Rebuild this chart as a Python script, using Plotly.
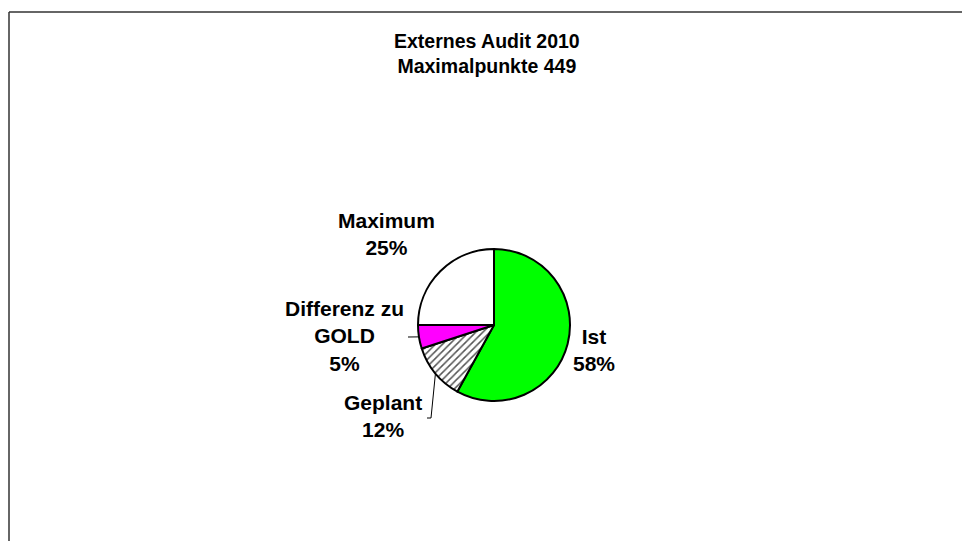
import math
import plotly.graph_objects as go

# ---- data ----
categories = ["Ist", "Geplant", "Differenz zu GOLD", "Maximum"]
label_lines = ["Ist", "Geplant", "Differenz zu<br>GOLD", "Maximum"]
values = [58, 12, 5, 25]
title_lines = ["Externes Audit 2010", "Maximalpunkte 449"]

# ---- style / layout ----
W, H = 970, 541
PAGE_OFFSET = 8                    # browser page margin
CX, CY, R = 494, 325, 76           # pie centre and radius (px, screen)
colors = ["#00FF00", "#FFFFFF", "#FF00FF", "#FFFFFF"]
patterns = ["", "/", "", ""]
# label centres, px offsets from pie centre
label_offsets = [(100, 25), (-111, 91), (-150, 11), (-108, -91)]
# leader-line waypoints (px offsets from pie centre); None = no leader
leader_points = [None, [(-63, 93), (-67, 93)], [(-86, 12)], None]
FONT = "Liberation Sans, Arial, Helvetica, sans-serif"


def px(x):
    return (x - PAGE_OFFSET) / W


def py(y):
    return 1 - (y - PAGE_OFFSET) / H


fig = go.Figure(
    go.Pie(
        labels=categories,
        values=values,
        sort=False,
        direction="clockwise",
        rotation=0,
        textinfo="none",
        hoverinfo="label+percent",
        marker=dict(
            colors=colors,
            line=dict(color="#000000", width=2),
            pattern=dict(shape=patterns, fgcolor="#555555", bgcolor="#FFFFFF",
                         size=5, solidity=0.3),
        ),
        domain=dict(x=[px(CX - R), px(CX + R)], y=[py(CY + R), py(CY - R)]),
        showlegend=False,
    )
)

total = sum(values)
annotations = []
shapes = []
cum = 0.0
for name, txt, v, off, lead in zip(categories, label_lines, values, label_offsets, leader_points):
    mid = (cum + v / 2) / total * 2 * math.pi
    cum += v
    pct = f"{v / total * 100:.0f}%"
    annotations.append(dict(
        x=px(CX + off[0]), y=py(CY + off[1]), xref="paper", yref="paper",
        text=f"{txt}<br>{pct}", showarrow=False, xanchor="center", yanchor="middle",
        align="center", font=dict(family=FONT, size=21, color="#000000", weight="bold"),
    ))
    if lead:
        ex = CX + R * math.sin(mid)
        ey = CY - R * math.cos(mid)
        path = f"M {px(ex)} {py(ey)}"
        for (lx, ly) in lead:
            path += f" L {px(CX + lx)} {py(CY + ly)}"
        shapes.append(dict(type="path", path=path, xref="paper", yref="paper",
                           line=dict(color="#000000", width=1)))

annotations.append(dict(
    x=px(487), y=py(54), xref="paper", yref="paper",
    text="<br>".join(title_lines), showarrow=False, xanchor="center", yanchor="middle",
    align="center", font=dict(family=FONT, size=19.5, color="#000000", weight="bold"),
))

# outer frame: only top and left edges fall inside the picture
frame = dict(color="#333333", width=1.5)
shapes.append(dict(type="line", xref="paper", yref="paper",
                   x0=px(9), x1=1.0, y0=py(12), y1=py(12), line=frame))
shapes.append(dict(type="line", xref="paper", yref="paper",
                   x0=px(9), x1=px(9), y0=py(12), y1=0.0, line=frame))

fig.update_layout(
    width=W, height=H,
    margin=dict(l=0, r=0, t=0, b=0),
    paper_bgcolor="#FFFFFF", plot_bgcolor="#FFFFFF",
    annotations=annotations, shapes=shapes,
)

fig.write_html("out.html")
